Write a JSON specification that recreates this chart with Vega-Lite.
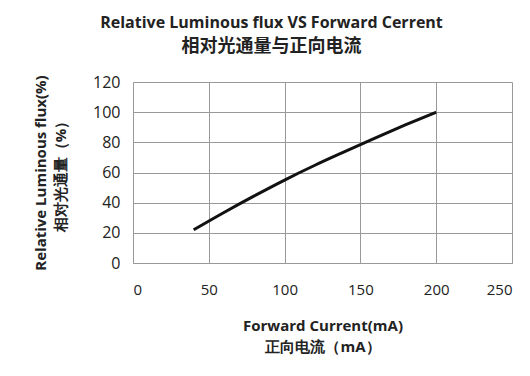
{
  "$schema": "https://vega.github.io/schema/vega-lite/v6.json",
  "autosize": "none",
  "width": 379,
  "height": 181,
  "padding": {"left": 133, "top": 82, "right": 18, "bottom": 113},
  "background": "white",
  "title": {
    "text": "Relative Luminous flux VS Forward Cerrent",
    "subtitle": "相对光通量与正向电流",
    "anchor": "middle",
    "dx": -51,
    "offset": 18,
    "font": "Open Sans",
    "fontSize": 16,
    "fontWeight": "bold",
    "color": "#222",
    "subtitleFont": "Noto Sans CJK SC",
    "subtitleFontSize": 18,
    "subtitleFontWeight": "bold",
    "subtitleColor": "#222",
    "subtitlePadding": 7
  },
  "data": {
    "values": [
      {"current": 40, "flux": 22},
      {"current": 60, "flux": 33.5},
      {"current": 80, "flux": 44.5},
      {"current": 100, "flux": 55},
      {"current": 120, "flux": 64.8},
      {"current": 140, "flux": 74},
      {"current": 160, "flux": 83},
      {"current": 180, "flux": 91.7},
      {"current": 200, "flux": 100}
    ]
  },
  "mark": {"type": "line", "color": "#111", "strokeWidth": 3, "interpolate": "monotone"},
  "encoding": {
    "x": {
      "field": "current",
      "type": "quantitative",
      "scale": {"domain": [0, 250], "nice": false},
      "axis": {
        "values": [0, 50, 100, 150, 200, 250],
        "title": ["Forward Current(mA)", "正向电流（mA）"],
        "titleFont": "Open Sans",
        "titleFontSize": 15,
        "titleFontWeight": "bold",
        "titleColor": "#222",
        "titlePadding": 21,
        "titleLineHeight": 21,
        "labelFont": "Open Sans",
        "labelFontSize": 15,
        "labelColor": "#222",
        "labelPadding": 19,
        "ticks": false,
        "domainColor": "#999",
        "gridColor": "#999",
        "gridWidth": 1
      }
    },
    "y": {
      "field": "flux",
      "type": "quantitative",
      "scale": {"domain": [0, 120], "nice": false},
      "axis": {
        "values": [0, 20, 40, 60, 80, 100, 120],
        "title": ["Relative Luminous flux(%)", "相对光通量（%）"],
        "titleFont": "Open Sans",
        "titleFontSize": 15,
        "titleFontWeight": "bold",
        "titleColor": "#222",
        "titlePadding": 24,
        "titleLineHeight": 20,
        "labelFont": "Open Sans",
        "labelFontSize": 16,
        "labelColor": "#222",
        "labelPadding": 13,
        "ticks": false,
        "domainColor": "#999",
        "gridColor": "#999",
        "gridWidth": 1
      }
    }
  },
  "config": {
    "view": {"stroke": null}
  }
}
